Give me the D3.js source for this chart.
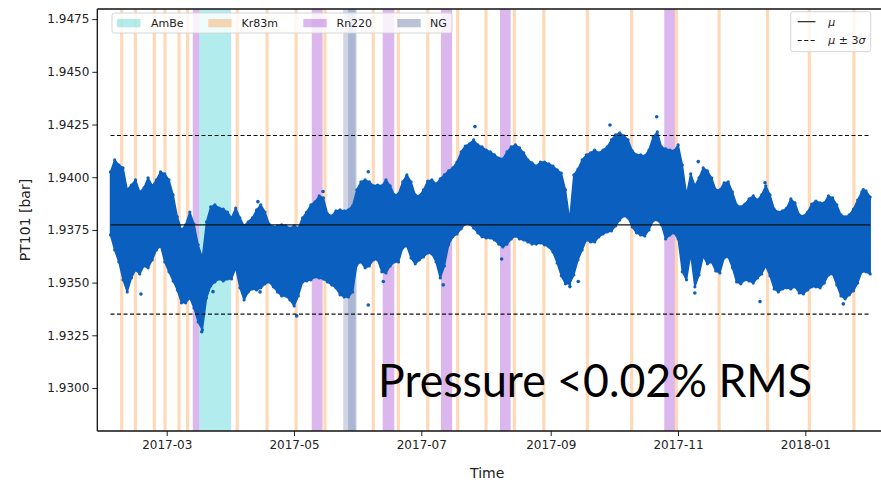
<!DOCTYPE html>
<html>
<head>
<meta charset="utf-8">
<script src="https://cdn.jsdelivr.net/npm/d3@7"></script>
<style>
  body { margin: 0; background: #fff; }
  svg { display: block; }
</style>
</head>
<body>
<svg id="chart" width="881" height="483"></svg>
<script>
// ---- Data -------------------------------------------------------------
// PT101 pressure readings: upper / lower envelope of the logged points,
// one pair every 48 h starting at sampleStart.
const sampleStart = "2017-02-02T02:00";
const sampleStepHours = 48;

const upperEnvelope = [
  1.94025, 1.94082, 1.94058, 1.94044, 1.93940, 1.93963, 1.93987, 1.93930, 1.93949, 1.93997,
  1.93959, 1.93987, 1.94025, 1.94016, 1.93987, 1.93916, 1.93812, 1.93750, 1.93774, 1.93835,
  1.93778, 1.93679, 1.93617, 1.93788, 1.93859, 1.93869, 1.93854, 1.93849, 1.93835, 1.93807,
  1.93854, 1.93807, 1.93769, 1.93788, 1.93807, 1.93845, 1.93869, 1.93835, 1.93778, 1.93764,
  1.93769, 1.93774, 1.93769, 1.93759, 1.93769, 1.93759, 1.93807, 1.93835, 1.93869, 1.93883,
  1.93911, 1.93902, 1.93826, 1.93816, 1.93840, 1.93845, 1.93840, 1.93845, 1.93864, 1.93940,
  1.93978, 1.93987, 1.93978, 1.93959, 1.93963, 1.93959, 1.93987, 1.93959, 1.93916, 1.93921,
  1.93978, 1.94011, 1.93978, 1.93916, 1.93911, 1.93940, 1.93982, 1.93987, 1.93968, 1.93992,
  1.94011, 1.94030, 1.94044, 1.94072, 1.94120, 1.94148, 1.94158, 1.94177, 1.94153, 1.94144,
  1.94129, 1.94120, 1.94106, 1.94091, 1.94087, 1.94120, 1.94144, 1.94153, 1.94139, 1.94115,
  1.94082, 1.94068, 1.94053, 1.94072, 1.94072, 1.94063, 1.94053, 1.94035, 1.94020, 1.93940,
  1.93797, 1.94011, 1.94039, 1.94082, 1.94106, 1.94115, 1.94129, 1.94115, 1.94129, 1.94144,
  1.94177, 1.94201, 1.94210, 1.94196, 1.94177, 1.94125, 1.94106, 1.94106, 1.94101, 1.94129,
  1.94191, 1.94215, 1.94144, 1.94134, 1.94129, 1.94125, 1.94153, 1.94058, 1.93916, 1.94016,
  1.93959, 1.93997, 1.94044, 1.94030, 1.93997, 1.93940, 1.93940, 1.93973, 1.93978, 1.93930,
  1.93869, 1.93859, 1.93873, 1.93897, 1.93911, 1.93892, 1.93916, 1.93959, 1.93916, 1.93849,
  1.93835, 1.93840, 1.93854, 1.93897, 1.93878, 1.93821, 1.93816, 1.93835, 1.93873, 1.93887,
  1.93878, 1.93878, 1.93911, 1.93902, 1.93869, 1.93821, 1.93812, 1.93821, 1.93849, 1.93892,
  1.93930, 1.93935, 1.93906
];

const lowerEnvelope = [
  1.93726, 1.93655, 1.93598, 1.93513, 1.93456, 1.93522, 1.93560, 1.93541, 1.93579, 1.93570,
  1.93608, 1.93655, 1.93674, 1.93598, 1.93551, 1.93508, 1.93465, 1.93404, 1.93404, 1.93427,
  1.93380, 1.93313, 1.93276, 1.93427, 1.93484, 1.93503, 1.93517, 1.93508, 1.93517, 1.93517,
  1.93570, 1.93475, 1.93418, 1.93456, 1.93470, 1.93465, 1.93475, 1.93494, 1.93503, 1.93480,
  1.93456, 1.93437, 1.93437, 1.93418, 1.93389, 1.93437, 1.93503, 1.93508, 1.93513, 1.93527,
  1.93522, 1.93517, 1.93503, 1.93489, 1.93475, 1.93442, 1.93432, 1.93432, 1.93456, 1.93584,
  1.93598, 1.93570, 1.93579, 1.93608, 1.93608, 1.93551, 1.93546, 1.93579, 1.93598, 1.93598,
  1.93664, 1.93674, 1.93617, 1.93589, 1.93608, 1.93622, 1.93641, 1.93636, 1.93598, 1.93522,
  1.93579, 1.93679, 1.93717, 1.93731, 1.93755, 1.93778, 1.93778, 1.93759, 1.93736, 1.93717,
  1.93712, 1.93712, 1.93702, 1.93683, 1.93669, 1.93683, 1.93707, 1.93721, 1.93707, 1.93702,
  1.93693, 1.93683, 1.93683, 1.93688, 1.93679, 1.93669, 1.93645, 1.93593, 1.93532, 1.93494,
  1.93494, 1.93536, 1.93608, 1.93655, 1.93702, 1.93693, 1.93693, 1.93717, 1.93731, 1.93740,
  1.93745, 1.93769, 1.93797, 1.93816, 1.93807, 1.93764, 1.93736, 1.93726, 1.93721, 1.93750,
  1.93793, 1.93797, 1.93774, 1.93707, 1.93726, 1.93736, 1.93707, 1.93551, 1.93513, 1.93636,
  1.93480, 1.93536, 1.93626, 1.93589, 1.93598, 1.93555, 1.93546, 1.93617, 1.93622, 1.93570,
  1.93503, 1.93494, 1.93513, 1.93508, 1.93498, 1.93522, 1.93541, 1.93579, 1.93532, 1.93470,
  1.93456, 1.93470, 1.93475, 1.93470, 1.93480, 1.93451, 1.93446, 1.93465, 1.93480, 1.93480,
  1.93475, 1.93498, 1.93536, 1.93541, 1.93489, 1.93437, 1.93423, 1.93442, 1.93461, 1.93498,
  1.93551, 1.93551, 1.93541
];

// Isolated readings lying outside the dense band
const outlierTimes = [
  "2017-02-16T16:00", "2017-03-17T19:00", "2017-03-23T05:00", "2017-04-14T17:00",
  "2017-04-13T17:00", "2017-05-02T07:00", "2017-05-14T22:00", "2017-06-05T14:00",
  "2017-06-05T14:00", "2017-06-12T19:00", "2017-07-11T12:00", "2017-07-26T17:00",
  "2017-08-08T12:00", "2017-09-10T05:00", "2017-09-14T05:00", "2017-09-29T10:00",
  "2017-10-21T19:00", "2017-11-09T02:00", "2017-11-10T17:00", "2017-12-10T07:00",
  "2017-12-12T17:00", "2018-01-19T05:00", "2018-01-28T19:00"
];
const outlierValues = [
  1.93446, 1.93267, 1.93457, 1.93456,
  1.93884, 1.93342, 1.93932, 1.93394,
  1.94026, 1.93505, 1.93489, 1.94240,
  1.93612, 1.93481, 1.93505, 1.94248,
  1.94287, 1.93451, 1.94074, 1.93410,
  1.93974, 1.93399, 1.93940
];

// Mean and standard deviation of PT101 over the run
const mu = 1.93774;
const sigma = 0.001412;

// Calibration / source periods [start, end]
const ambePeriods = [["2017-03-16T14:00", "2017-03-31T19:00"]];
const kr83mPeriods = [
  ["2017-02-06T16:00", "2017-02-08T04:00"], ["2017-02-13T06:00", "2017-02-14T18:00"],
  ["2017-02-22T08:00", "2017-02-23T20:00"], ["2017-02-27T11:00", "2017-02-28T23:00"],
  ["2017-03-06T04:00", "2017-03-07T16:00"], ["2017-03-10T06:00", "2017-03-11T18:00"],
  ["2017-04-03T01:00", "2017-04-04T13:00"], ["2017-04-17T08:00", "2017-04-18T20:00"],
  ["2017-05-01T06:00", "2017-05-02T18:00"], ["2017-05-15T02:00", "2017-05-16T14:00"],
  ["2017-06-07T06:00", "2017-06-08T18:00"], ["2017-06-19T06:00", "2017-06-20T18:00"],
  ["2017-07-03T08:00", "2017-07-04T20:00"], ["2017-07-17T16:00", "2017-07-19T04:00"],
  ["2017-07-31T06:00", "2017-08-01T18:00"], ["2017-08-13T20:00", "2017-08-15T08:00"],
  ["2017-08-27T23:00", "2017-08-29T11:00"], ["2017-09-17T20:00", "2017-09-19T08:00"],
  ["2017-10-09T01:00", "2017-10-10T13:00"], ["2017-10-30T12:00", "2017-10-31T23:00"],
  ["2017-11-19T23:00", "2017-11-21T11:00"], ["2017-12-13T04:00", "2017-12-14T16:00"],
  ["2018-01-02T04:00", "2018-01-03T16:00"], ["2018-01-23T13:00", "2018-01-25T01:00"]
];
const rn220Periods = [
  ["2017-03-13T12:00", "2017-03-16T14:00"], ["2017-05-09T12:00", "2017-05-14T17:00"],
  ["2017-06-12T12:00", "2017-06-18T02:00"], ["2017-07-10T10:00", "2017-07-15T19:00"],
  ["2017-08-07T17:00", "2017-08-12T19:00"], ["2017-10-25T10:00", "2017-10-30T12:00"]
];
const ngPeriods = [
  ["2017-05-24T14:00", "2017-05-31T00:00"], ["2017-05-26T22:00", "2017-05-30T12:00"]
];

const xTickDates = ["2017-03-01", "2017-05-01", "2017-07-01", "2017-09-01", "2017-11-01", "2018-01-01"];
const yTickValues = [1.9300, 1.9325, 1.9350, 1.9375, 1.9400, 1.9425, 1.9450, 1.9475];
const xDomain = ["2017-01-26T18:00", "2018-02-07T17:00"];
const yDomain = [1.92796, 1.94798];

// ---- Helpers ------------------------------------------------------------
const parseT = s => new Date((s.length === 10 ? s + "T00:00" : s) + ":00Z");
const t0 = parseT(sampleStart);
const samples = upperEnvelope.map((hi, i) => ({
  t: new Date(t0.getTime() + i * sampleStepHours * 3600e3),
  hi: hi,
  lo: lowerEnvelope[i]
}));

// ---- Layout ---------------------------------------------------------------
const plot = { left: 97.3, right: 884, top: 9, bottom: 431 };
const svg = d3.select("#chart");

const x = d3.scaleUtc().domain(xDomain.map(parseT)).range([plot.left, plot.right]);
const y = d3.scaleLinear().domain(yDomain).range([plot.bottom, plot.top]);

svg.append("defs").append("clipPath").attr("id", "plot-clip")
  .append("rect")
  .attr("x", plot.left).attr("y", plot.top)
  .attr("width", plot.right - plot.left).attr("height", plot.bottom - plot.top);

const body = svg.append("g").attr("clip-path", "url(#plot-clip)");

// ---- Source periods (vertical spans) -------------------------------------
const spanStyles = [
  { periods: ambePeriods,  color: "#00bfbf", opacity: 0.30 },
  { periods: kr83mPeriods, color: "#ff7f0e", opacity: 0.30 },
  { periods: rn220Periods, color: "#9932cc", opacity: 0.35 },
  { periods: ngPeriods,    color: "#29458d", opacity: 0.22 }
];
spanStyles.forEach(s => {
  body.append("g").selectAll("rect")
    .data(s.periods)
    .join("rect")
    .attr("x", d => x(parseT(d[0])))
    .attr("width", d => Math.max(1, x(parseT(d[1])) - x(parseT(d[0]))))
    .attr("y", plot.top)
    .attr("height", plot.bottom - plot.top)
    .attr("fill", s.color)
    .attr("fill-opacity", s.opacity);
});

// ---- Pressure readings ----------------------------------------------------
const blue = "#0a5fbf";
const band = d3.area()
  .x(d => x(d.t))
  .y0(d => y(d.lo))
  .y1(d => y(d.hi))
  .curve(d3.curveLinear);

body.append("path")
  .datum(samples)
  .attr("d", band)
  .attr("fill", blue)
  .attr("stroke", blue)
  .attr("stroke-width", 1.5)
  .attr("stroke-linejoin", "round");

const edgeDots = samples.flatMap(d => [{ t: d.t, v: d.hi }, { t: d.t, v: d.lo }]);
body.append("g").selectAll("circle")
  .data(edgeDots)
  .join("circle")
  .attr("cx", d => x(d.t))
  .attr("cy", d => y(d.v))
  .attr("r", 1.6)
  .attr("fill", blue);

body.append("g").selectAll("circle")
  .data(outlierTimes.map((t, i) => ({ t: parseT(t), v: outlierValues[i] })))
  .join("circle")
  .attr("cx", d => x(d.t))
  .attr("cy", d => y(d.v))
  .attr("r", 1.8)
  .attr("fill", blue);

// ---- Mean and 3 sigma lines ---------------------------------------------
const tFirst = samples[0].t, tLast = samples[samples.length - 1].t;
const refLines = [
  { v: mu, dash: null },
  { v: mu + 3 * sigma, dash: "4,2.5" },
  { v: mu - 3 * sigma, dash: "4,2.5" }
];
body.append("g").selectAll("line")
  .data(refLines)
  .join("line")
  .attr("x1", x(tFirst)).attr("x2", x(tLast))
  .attr("y1", d => y(d.v)).attr("y2", d => y(d.v))
  .attr("stroke", "#111")
  .attr("stroke-width", 1.1)
  .attr("stroke-dasharray", d => d.dash);

// ---- Axes -----------------------------------------------------------------
const axisFont = "DejaVu Sans, sans-serif";
const xAxis = svg.append("g")
  .attr("transform", `translate(0,${plot.bottom})`)
  .call(d3.axisBottom(x)
    .tickValues(xTickDates.map(parseT))
    .tickFormat(d3.utcFormat("%Y-%m"))
    .tickSize(5).tickSizeOuter(0).tickPadding(4));
const yAxis = svg.append("g")
  .attr("transform", `translate(${plot.left},0)`)
  .call(d3.axisLeft(y)
    .tickValues(yTickValues)
    .tickFormat(d3.format(".4f"))
    .tickSize(5).tickSizeOuter(0).tickPadding(3));
[xAxis, yAxis].forEach(g => {
  g.select(".domain").remove();
  g.selectAll(".tick line").attr("stroke", "#222").attr("stroke-width", 1);
  g.selectAll(".tick text").attr("fill", "#222")
    .style("font-family", axisFont).style("font-size", "12px");
});

// spines
const spine = svg.append("g").attr("stroke", "#111").attr("stroke-width", 1.3);
spine.append("line").attr("x1", plot.left).attr("x2", plot.left).attr("y1", plot.top).attr("y2", plot.bottom);
spine.append("line").attr("x1", plot.left).attr("x2", plot.right).attr("y1", plot.bottom).attr("y2", plot.bottom);
spine.append("line").attr("x1", plot.left).attr("x2", plot.right).attr("y1", plot.top).attr("y2", plot.top);

// axis titles
svg.append("text")
  .attr("x", (plot.left + 881) / 2 - 2).attr("y", 478)
  .attr("text-anchor", "middle")
  .style("font-family", axisFont).style("font-size", "14px").attr("fill", "#222")
  .text("Time");
svg.append("text")
  .attr("transform", `translate(30,${(plot.top + plot.bottom) / 2}) rotate(-90)`)
  .attr("text-anchor", "middle")
  .style("font-family", axisFont).style("font-size", "14px").attr("fill", "#222")
  .text("PT101 [bar]");

// ---- Legends --------------------------------------------------------------
const legendFont = "DejaVu Sans, sans-serif";
const srcLegend = svg.append("g");
srcLegend.append("rect")
  .attr("x", 112).attr("y", 13).attr("width", 340).attr("height", 20).attr("rx", 2.5)
  .attr("fill", "#fff").attr("fill-opacity", 0.8)
  .attr("stroke", "#d6d6d6").attr("stroke-width", 1);
const srcItems = [
  { label: "AmBe",  style: spanStyles[0], px: 117,   tx: 151 },
  { label: "Kr83m", style: spanStyles[1], px: 208.3, tx: 241.5 },
  { label: "Rn220", style: spanStyles[2], px: 303.3, tx: 336.5 },
  { label: "NG",    style: spanStyles[3], px: 397.3, tx: 430 }
];
srcItems.forEach(it => {
  srcLegend.append("rect")
    .attr("x", it.px).attr("y", 19).attr("width", 23.4).attr("height", 8.3)
    .attr("fill", it.style.color).attr("fill-opacity", it.style === spanStyles[3] ? 0.33 : it.style.opacity);
  srcLegend.append("text")
    .attr("x", it.tx).attr("y", 27.3)
    .style("font-family", legendFont).style("font-size", "11px").attr("fill", "#222")
    .text(it.label);
});

const statLegend = svg.append("g");
statLegend.append("rect")
  .attr("x", 790.7).attr("y", 11.7).attr("width", 80).attr("height", 40).attr("rx", 2.5)
  .attr("fill", "#fff").attr("fill-opacity", 0.8)
  .attr("stroke", "#d6d6d6").attr("stroke-width", 1);
statLegend.append("line")
  .attr("x1", 797.7).attr("x2", 815.5).attr("y1", 21.7).attr("y2", 21.7)
  .attr("stroke", "#111").attr("stroke-width", 1.1);
statLegend.append("line")
  .attr("x1", 797.7).attr("x2", 815.5).attr("y1", 40.5).attr("y2", 40.5)
  .attr("stroke", "#111").attr("stroke-width", 1.1).attr("stroke-dasharray", "4,2.5");
statLegend.append("text")
  .attr("x", 828.3).attr("y", 25.5)
  .style("font-family", legendFont).style("font-size", "11px").style("font-style", "italic").attr("fill", "#222")
  .text("μ");
const sigText = statLegend.append("text")
  .attr("x", 828.3).attr("y", 44.3)
  .style("font-family", legendFont).style("font-size", "11px").attr("fill", "#222");
sigText.append("tspan").style("font-style", "italic").text("μ");
sigText.append("tspan").text(" ± 3");
sigText.append("tspan").style("font-style", "italic").text("σ");

// ---- Annotation -------------------------------------------------------------
svg.append("text")
  .attr("x", 378).attr("y", 397)
  .attr("textLength", 434).attr("lengthAdjust", "spacingAndGlyphs")
  .style("font-family", "Lato, 'Open Sans', sans-serif").style("font-size", "46px")
  .attr("fill", "#000")
  .text("Pressure <0.02% RMS");
</script>
</body>
</html>
